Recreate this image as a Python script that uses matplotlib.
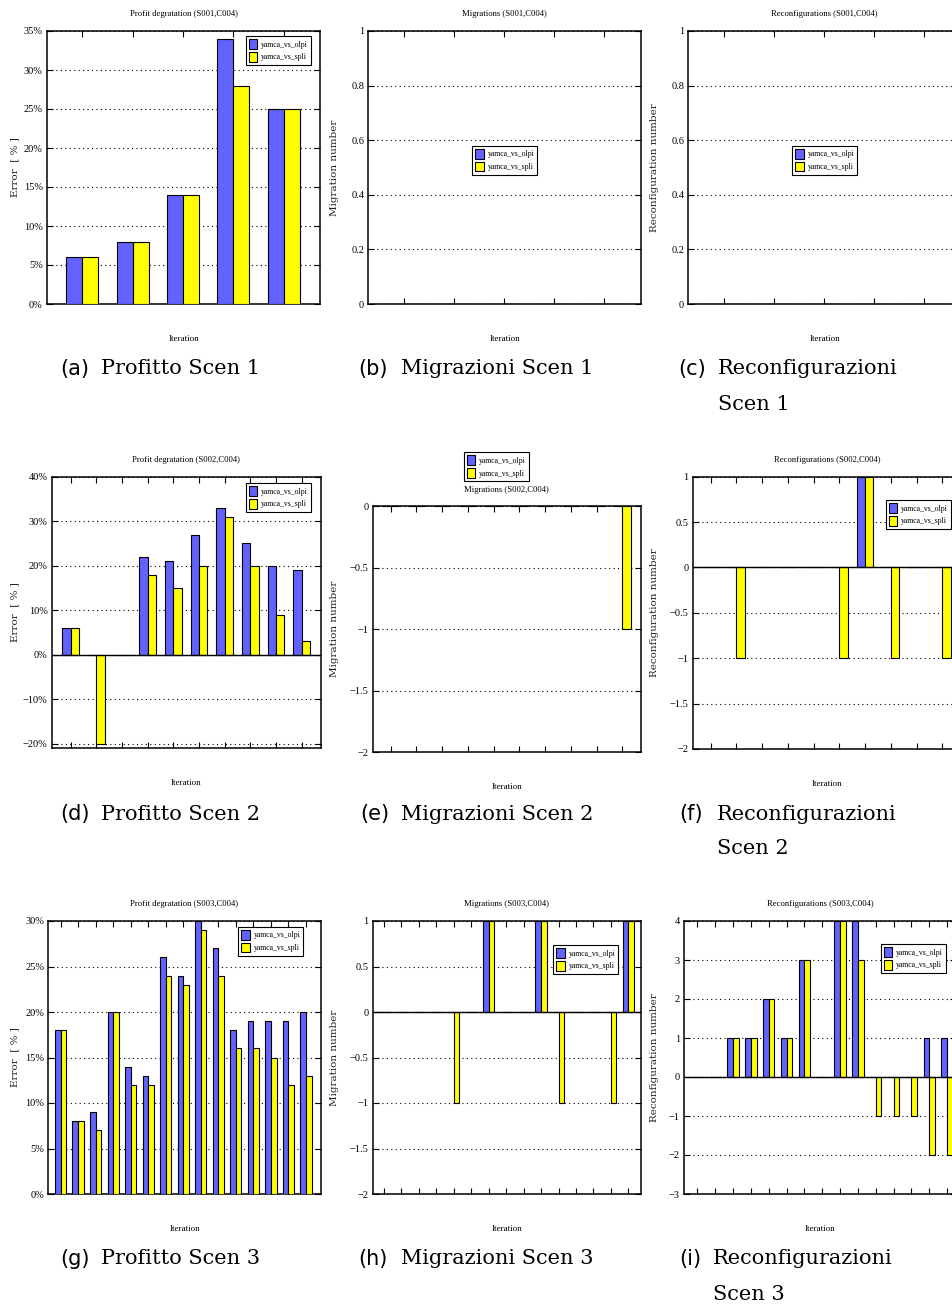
import numpy as np
import matplotlib
matplotlib.use("Agg")
import matplotlib.pyplot as plt
from matplotlib.patches import Patch
from matplotlib.ticker import FuncFormatter, MultipleLocator

W, H = 953, 1311

series_names = ["yamca_vs_olpi", "yamca_vs_spli"]
bar_colors = ["#6262ff", "#ffff00"]

# --- data ---
profit1_olpi = [6, 8, 14, 34, 25]
profit1_spli = [6, 8, 14, 28, 25]
migr1_olpi = [0, 0, 0, 0, 0]
migr1_spli = [0, 0, 0, 0, 0]
reconf1_olpi = [0, 0, 0, 0, 0]
reconf1_spli = [0, 0, 0, 0, 0]

profit2_olpi = [6, 0, 0, 22, 21, 27, 33, 25, 20, 19]
profit2_spli = [6, -20, 0, 18, 15, 20, 31, 20, 9, 3]
migr2_olpi = [0, 0, 0, 0, 0, 0, 0, 0, 0, 0]
migr2_spli = [0, 0, 0, 0, 0, 0, 0, 0, 0, -1]
reconf2_olpi = [0, 0, 0, 0, 0, 0, 1, 0, 0, 0]
reconf2_spli = [0, -1, 0, 0, 0, -1, 1, -1, 0, -1]

profit3_olpi = [18, 8, 9, 20, 14, 13, 26, 24, 30, 27, 18, 19, 19, 19, 20]
profit3_spli = [18, 8, 7, 20, 12, 12, 24, 23, 29, 24, 16, 16, 15, 12, 13]
migr3_olpi = [0, 0, 0, 0, 0, 0, 1, 0, 0, 1, 0, 0, 0, 0, 1]
migr3_spli = [0, 0, 0, 0, -1, 0, 1, 0, 0, 1, -1, 0, 0, -1, 1]
reconf3_olpi = [0, 0, 1, 1, 2, 1, 3, 0, 4, 4, 0, 0, 0, 1, 1]
reconf3_spli = [0, 0, 1, 1, 2, 1, 3, 0, 4, 3, -1, -1, -1, -2, -2]

titles = ["Profit degratation (S001,C004)", "Migrations (S001,C004)", "Reconfigurations (S001,C004)",
          "Profit degratation (S002,C004)", "Migrations (S002,C004)", "Reconfigurations (S002,C004)",
          "Profit degratation (S003,C004)", "Migrations (S003,C004)", "Reconfigurations (S003,C004)"]
ylabels = ["Error  [ % ]", "Migration number", "Reconfiguration number"] * 3
cap_tags = ["(a)", "(b)", "(c)", "(d)", "(e)", "(f)", "(g)", "(h)", "(i)"]
cap_texts = ["Profitto Scen 1", "Migrazioni Scen 1", "Reconfigurazioni\nScen 1",
             "Profitto Scen 2", "Migrazioni Scen 2", "Reconfigurazioni\nScen 2",
             "Profitto Scen 3", "Migrazioni Scen 3", "Reconfigurazioni\nScen 3"]

data = [(profit1_olpi, profit1_spli), (migr1_olpi, migr1_spli), (reconf1_olpi, reconf1_spli),
        (profit2_olpi, profit2_spli), (migr2_olpi, migr2_spli), (reconf2_olpi, reconf2_spli),
        (profit3_olpi, profit3_spli), (migr3_olpi, migr3_spli), (reconf3_olpi, reconf3_spli)]

# layout in pixels: left, top, right, bottom
boxes = [(47, 31, 320.5, 304), (368.3, 31, 640.7, 304), (688.3, 31, 961, 304),
         (51.7, 476.7, 320.7, 748.3), (372.7, 506, 640.7, 752.3), (692.7, 476.7, 961.7, 749),
         (48.3, 921, 320.7, 1194), (372.7, 921, 640.7, 1194), (684, 921, 956, 1194)]
xlims = [(-0.70, 4.73), (-0.72, 4.73), (-0.72, 4.73),
         (-0.74, 9.74), (-0.70, 9.71), (-0.70, 9.75),
         (-0.70, 14.84), (-0.65, 14.71), (-0.75, 14.5)]
ylims = [(0, 35), (0, 1), (0, 1), (-21, 40), (-2, 0), (-2, 1), (0, 30), (-2, 1), (-3, 4)]
ysteps = [5, 0.2, 0.2, 10, 0.5, 0.5, 5, 0.5, 1]
percent = [True, False, False, True, False, False, True, False, False]
# legend top-left corner in pixels
legend_pos = [(245.7, 36), (472.3, 145.7), (792.3, 145.7),
              (245.7, 483), (464, 452.3), (885.7, 500),
              (238.3, 926.7), (553.3, 945), (880.7, 944)]
ylabel_x = [15, 335, 655, 15, 335, 655, 15, 335, 655]
cap_pos = [(60, 101, 369), (358, 401, 369), (678, 718, 369),
           (60, 101, 814), (360, 401, 814), (679, 717, 814),
           (60, 101, 1259), (358, 401, 1259), (679, 713, 1259)]

serif = "Liberation Serif"
fig = plt.figure(figsize=(W / 100, H / 100), dpi=100)


def fx(x):
    return x / W


def fy(y):
    return 1 - y / H


def fmt_pct(v, pos):
    return ("%d%%" % round(v)).replace("-", "\u2212")


def fmt_num(v, pos):
    return ("%g" % round(v, 3)).replace("-", "\u2212")


for k in range(9):
    l, t, r, b = boxes[k]
    ax = fig.add_axes([fx(l), fy(b), fx(r) - fx(l), fy(t) - fy(b)])
    olpi, spli = data[k]
    x = np.arange(len(olpi))
    w = 0.32
    ax.bar(x - w / 2, olpi, w, color=bar_colors[0], edgecolor="black", linewidth=0.8, zorder=3)
    ax.bar(x + w / 2, spli, w, color=bar_colors[1], edgecolor="black", linewidth=0.8, zorder=3)
    ax.set_xlim(*xlims[k])
    ax.set_ylim(*ylims[k])
    if ylims[k][0] < 0 < ylims[k][1]:
        ax.axhline(0, color="black", linewidth=1.0, zorder=4)
    ax.set_xticks(x)
    ax.set_xticklabels([])
    ax.yaxis.set_major_locator(MultipleLocator(ysteps[k]))
    ax.yaxis.set_major_formatter(FuncFormatter(fmt_pct if percent[k] else fmt_num))
    ax.tick_params(direction="in", top=True, right=True, length=4, width=0.8,
                   labelsize=7.5, pad=3)
    for lab in ax.get_yticklabels():
        lab.set_fontfamily(serif)
    ax.grid(axis="y", color="black", linestyle=(0, (1, 3)), linewidth=0.8, zorder=1)
    for s in ax.spines.values():
        s.set_linewidth(1.1)

    ax.set_ylabel(ylabels[k], fontsize=7.5, family="DejaVu Serif", color="#222222", va="center")
    ax.yaxis.set_label_coords(fx(ylabel_x[k]), fy((t + b) / 2), transform=fig.transFigure)
    ax.set_xlabel("Iteration", fontsize=6.5, family=serif)
    ax.xaxis.set_label_coords(fx((l + r) / 2), fy(b + 31), transform=fig.transFigure)
    if k == 4:
        ty = t - 16
    else:
        ty = t - 17
    fig.text(fx((l + min(r, 961)) / 2), fy(ty), titles[k], fontsize=6.2, family=serif,
             ha="center", va="center")

    handles = [Patch(facecolor=bar_colors[0], edgecolor="black", linewidth=0.8),
               Patch(facecolor=bar_colors[1], edgecolor="black", linewidth=0.8)]
    lx, ly = legend_pos[k]
    leg = ax.legend(handles, series_names, loc="upper left", bbox_to_anchor=(fx(lx), fy(ly)),
                    bbox_transform=fig.transFigure, borderaxespad=0, fancybox=False,
                    framealpha=1, edgecolor="black", prop={"family": serif, "size": 5.6},
                    handlelength=1.05, handleheight=1.55, handletextpad=0.5,
                    borderpad=0.4, labelspacing=0.4)
    leg.get_frame().set_linewidth(0.8)
    leg.set_zorder(10)

    cx_tag, cx_txt, cy = cap_pos[k]
    fig.text(fx(cx_tag), fy(cy), cap_tags[k], fontsize=15, family="DejaVu Sans",
             ha="left", va="center")
    lines = cap_texts[k].split("\n")
    for j, line in enumerate(lines):
        fig.text(fx(cx_txt), fy(cy + 35 * j), line, fontsize=15, family="DejaVu Serif",
                 ha="left", va="center")

fig.savefig("out.png", dpi=100)
